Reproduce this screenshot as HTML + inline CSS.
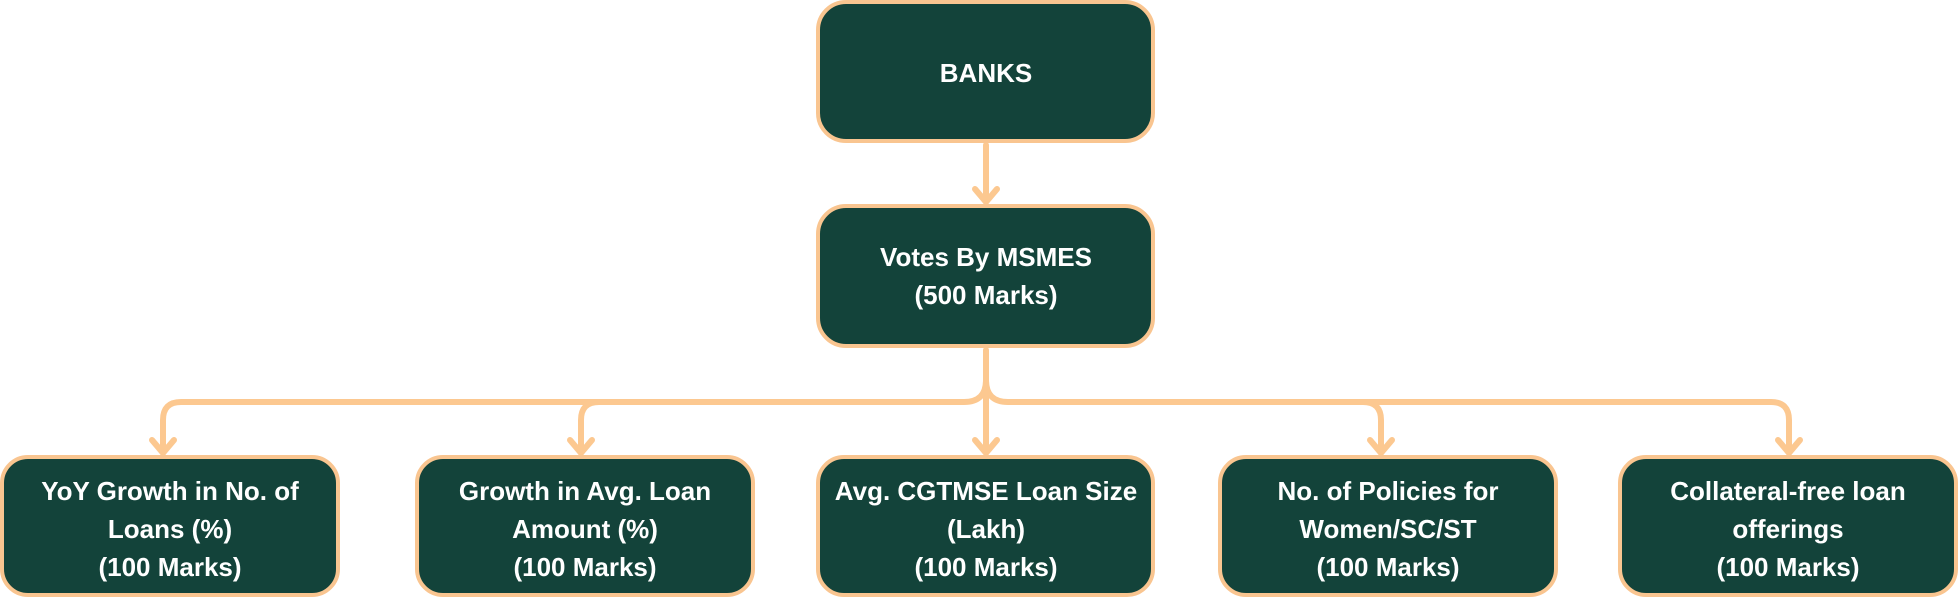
<!DOCTYPE html>
<html><head><meta charset="utf-8"><style>
html,body{margin:0;padding:0;background:#fff;}
svg{display:block}
text{font-family:"Liberation Sans",sans-serif;font-weight:bold;fill:#fff;font-size:26px;text-anchor:middle}
</style></head><body>
<svg width="1960" height="599" viewBox="0 0 1960 599">
<g fill="none" stroke="#FCC890" stroke-width="6" stroke-linecap="round" stroke-linejoin="round">
<line x1="986" y1="145" x2="986" y2="202"/>
<polyline points="975,189 986,202 997,189"/>
<line x1="986" y1="350" x2="986" y2="453"/>
<path d="M986,380 Q986,402 964,402 H181 Q163,402 163,420 V453"/>
<path d="M986,380 Q986,402 1008,402 H1771 Q1789,402 1789,420 V453"/>
<path d="M581,453 V420 Q581,402 599,402"/>
<path d="M1381,453 V420 Q1381,402 1363,402"/>
<polyline points="152,440 163,453 174,440"/>
<polyline points="570,440 581,453 592,440"/>
<polyline points="975,440 986,453 997,440"/>
<polyline points="1370,440 1381,453 1392,440"/>
<polyline points="1778,440 1789,453 1800,440"/>
</g>
<g fill="#13433A" stroke="#F9C590" stroke-width="4">
<rect x="818" y="2" width="335" height="139" rx="28"/>
<rect x="818" y="206" width="335" height="140" rx="28"/>
<rect x="2" y="457" width="336" height="138" rx="26"/>
<rect x="417" y="457" width="336" height="138" rx="26"/>
<rect x="818" y="457" width="335" height="138" rx="26"/>
<rect x="1220" y="457" width="336" height="138" rx="26"/>
<rect x="1620" y="457" width="336" height="138" rx="26"/>
</g>
<text x="986" y="82">BANKS</text>
<text x="986" y="266">Votes By MSMES</text>
<text x="986" y="304">(500 Marks)</text>
<text x="170" y="500">YoY Growth in No. of</text>
<text x="170" y="538">Loans (%)</text>
<text x="170" y="576">(100 Marks)</text>
<text x="585" y="500">Growth in Avg. Loan</text>
<text x="585" y="538">Amount (%)</text>
<text x="585" y="576">(100 Marks)</text>
<text x="986" y="500">Avg. CGTMSE Loan Size</text>
<text x="986" y="538">(Lakh)</text>
<text x="986" y="576">(100 Marks)</text>
<text x="1388" y="500">No. of Policies for</text>
<text x="1388" y="538">Women/SC/ST</text>
<text x="1388" y="576">(100 Marks)</text>
<text x="1788" y="500">Collateral-free loan</text>
<text x="1788" y="538">offerings</text>
<text x="1788" y="576">(100 Marks)</text>
</svg>
</body></html>
